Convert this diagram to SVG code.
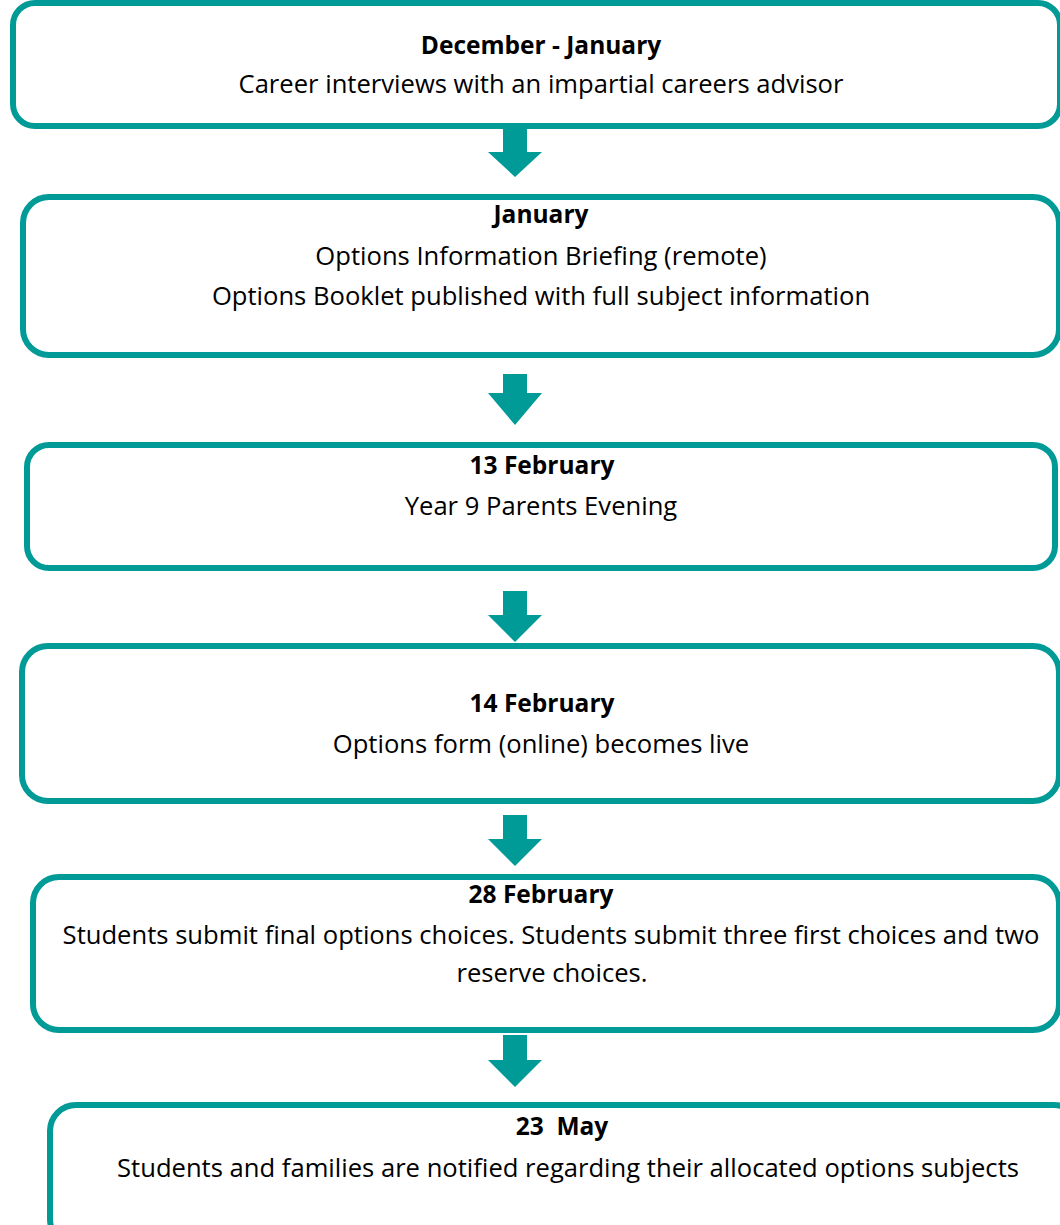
<svg xmlns="http://www.w3.org/2000/svg" width="1060" height="1225" viewBox="0 0 1060 1225">
<style>
.box{fill:#ffffff;stroke:#009A97;stroke-width:6}
.arrow{fill:#009A97}
text{font-family:"Open Sans","Noto Sans","Liberation Sans",sans-serif;font-size:25.6px;fill:#000000;text-anchor:middle}
.b{font-weight:bold;font-size:24.5px}
</style>
<rect x="0" y="0" width="1060" height="1225" fill="#ffffff"/>
<g id="connectors">
<polygon class="arrow" points="503,129 527,129 527,152 542,152 515,177 488,152 503,152"/>
<polygon class="arrow" points="503,374 527,374 527,393 542,393 515,425 488,393 503,393"/>
<polygon class="arrow" points="503,591 527,591 527,615 542,615 515,642 488,615 503,615"/>
<polygon class="arrow" points="503,815 527,815 527,839 542,839 515,866 488,839 503,839"/>
<polygon class="arrow" points="503,1035 527,1035 527,1060 542,1060 515,1087 488,1060 503,1060"/>
</g>
<g id="node1">
<rect class="box" x="13" y="3" width="1047" height="123" rx="22"/>
<text class="b" x="541" y="54">December - January</text>
<text x="541" y="93">Career interviews with an impartial careers advisor</text>
</g>
<g id="node2">
<rect class="box" x="23" y="197" width="1036" height="158" rx="26"/>
<text class="b" x="541" y="223">January</text>
<text x="541" y="265">Options Information Briefing (remote)</text>
<text x="541" y="305">Options Booklet published with full subject information</text>
</g>
<g id="node3">
<rect class="box" x="27" y="445" width="1028" height="123" rx="22"/>
<text class="b" x="542" y="474">13 February</text>
<text x="541" y="515">Year 9 Parents Evening</text>
</g>
<g id="node4">
<rect class="box" x="22" y="646" width="1037" height="155" rx="26"/>
<text class="b" x="542" y="712">14 February</text>
<text x="541" y="753">Options form (online) becomes live</text>
</g>
<g id="node5">
<rect class="box" x="33" y="877" width="1026" height="153" rx="26"/>
<text class="b" x="541" y="903">28 February</text>
<text x="551" y="944">Students submit final options choices. Students submit three first choices and two</text>
<text x="552" y="982">reserve choices.</text>
</g>
<g id="node6">
<rect class="box" x="50" y="1105" width="1030" height="140" rx="26"/>
<text class="b" x="562" y="1135" xml:space="preserve">23  May</text>
<text x="568" y="1177">Students and families are notified regarding their allocated options subjects</text>
</g>
</svg>
